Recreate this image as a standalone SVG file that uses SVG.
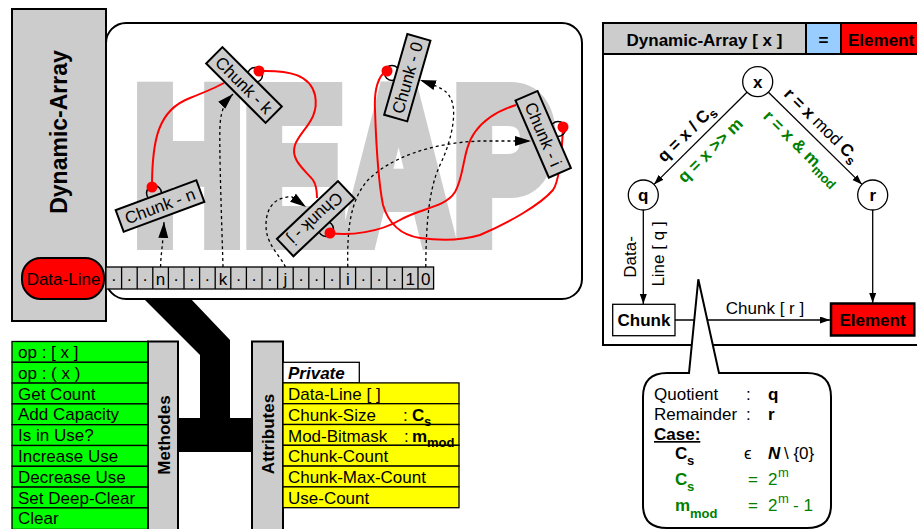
<svg xmlns="http://www.w3.org/2000/svg" width="917" height="529" viewBox="0 0 917 529">
<style>
text{font-family:"Liberation Sans",Arial,sans-serif;font-size:17px;fill:#000}
.b{font-weight:bold}
.g{fill:#008000}
.m{text-anchor:middle}
.box{stroke:#000;stroke-width:2}
.thin{stroke:#000;stroke-width:1.3}
.gray{fill:#cccccc}
.red{stroke:#ff0000;stroke-width:2;fill:none}
.dot{fill:#ff0000}
.loop{fill:none;stroke:#000;stroke-width:1.5}
.dash{fill:none;stroke:#000;stroke-width:1.3;stroke-dasharray:3 3}
.ln{fill:none;stroke:#000;stroke-width:1.3}
.chunk{fill:#cccccc;stroke:#000;stroke-width:2}
.sub{font-size:13px}
.heapword{fill:#cccccc;stroke:#cccccc;stroke-width:20;font-weight:bold;font-size:215px}
</style>
<defs>
<marker id="bigArrow" markerUnits="userSpaceOnUse" markerWidth="17" markerHeight="11" refX="16" refY="5" orient="auto">
<path d="M0,0 L16,5 L0,10 Z" fill="#000"/>
</marker>
<marker id="arrow" markerUnits="userSpaceOnUse" markerWidth="11" markerHeight="8" refX="10" refY="3.5" orient="auto">
<path d="M0,0 L10,3.5 L0,7 Z" fill="#000"/>
</marker>
</defs>

<!-- thick black band from heap to class members -->
<polygon points="143,298 190,298 230,340 230,418 252,418 252,452 178,452 178,418 200,418 200,355" fill="#000"/>

<g id="dynamic-array">
<rect x="12" y="9" width="94" height="312" class="gray box"/>
<text class="b m" style="font-size:23px" transform="translate(67,132) rotate(-90)">Dynamic-Array</text>
</g>

<g id="heap">
<rect x="106" y="23" width="476" height="276" rx="20" fill="#fff" class="box"/>
<text class="heapword" x="134" y="240" stroke-linejoin="miter" textLength="420" lengthAdjust="spacingAndGlyphs">HEAP</text>
</g>

<g id="data-line">
<rect x="22" y="258" width="82" height="41" rx="19" fill="#ff0000" class="box"/>
<text class="m" x="63.5" y="285">Data-Line</text>
</g>

<g id="array">
<rect x="106" y="267" width="327.6" height="22" class="gray thin"/>
<path class="ln" d="M121.6,267V289M137.2,267V289M152.8,267V289M168.4,267V289M184,267V289M199.6,267V289M215.2,267V289M230.8,267V289M246.4,267V289M262,267V289M277.6,267V289M293.2,267V289M308.8,267V289M324.4,267V289M340,267V289M355.6,267V289M371.2,267V289M386.8,267V289M402.4,267V289M418,267V289"/>
<text class="m" x="113.8" y="285">·</text><text class="m" x="129.4" y="285">·</text><text class="m" x="145" y="285">·</text>
<text class="m" x="160.6" y="285">n</text>
<text class="m" x="176.2" y="285">·</text><text class="m" x="191.8" y="285">·</text><text class="m" x="207.4" y="285">·</text>
<text class="m" x="223" y="285">k</text>
<text class="m" x="238.6" y="285">·</text><text class="m" x="254.2" y="285">·</text><text class="m" x="269.8" y="285">·</text>
<text class="m" x="285.4" y="285">j</text>
<text class="m" x="301" y="285">·</text><text class="m" x="316.6" y="285">·</text><text class="m" x="332.2" y="285">·</text>
<text class="m" x="347.8" y="285">i</text>
<text class="m" x="363.4" y="285">·</text><text class="m" x="379" y="285">·</text><text class="m" x="394.6" y="285">·</text>
<text class="m" x="410.2" y="285">1</text>
<text class="m" x="425.8" y="285">0</text>
</g>

<g id="definition-panel">
<rect x="603" y="23" width="330" height="322" fill="#fff" class="box"/>
<rect x="603" y="23" width="203" height="31" class="gray box"/>
<rect x="806" y="23" width="35" height="31" fill="#99ccff" class="box"/>
<rect x="841" y="23" width="92" height="31" fill="#ff0000" class="box"/>
<text class="b m" x="704.5" y="45.5">Dynamic-Array [ x ]</text>
<text class="b m" x="823.5" y="45.5">=</text>
<text class="b" x="848" y="45.5">Element</text>
</g>

<g id="connectors">
<!-- dashed index pointers -->
<path class="dash" marker-end="url(#bigArrow)" d="M160.6,267 C160.6,255 163,245 164,222"/>
<path class="dash" marker-end="url(#bigArrow)" d="M223,267 C222,230 219,150 220,125 C221,110 225,102 233,94"/>
<path class="dash" marker-end="url(#bigArrow)" d="M285.4,267 C280,255 266,245 266,225 C266,205 278,196 292,197 L306,207"/>
<path class="dash" marker-end="url(#bigArrow)" d="M347.8,267 C347,230 350,200 368,180 C390,158 430,143 480,141 L531,141"/>
<path class="dash" marker-end="url(#bigArrow)" d="M425.8,267 C426,230 428,190 440,165 C452,140 458,110 450,97 C446,90 440,87 420,80"/>
<!-- red chain links -->
<path class="red" d="M152,187 C152,140 158,110 190,98 C205,92 215,88 224,83"/>
<path class="red" d="M259,71 C290,70 310,75 315,95 C320,120 300,130 295,145 C290,160 305,170 313,180 C317,186 317,192 317,198"/>
<path class="red" d="M330,233 C350,236 380,232 400,220 C420,208 445,208 455,192 C465,175 462,150 475,132 C485,118 500,110 516,105"/>
<path class="red" d="M563,127 C562,150 560,180 553,190 C540,205 510,222 480,235 C460,241 435,240 420,238 C400,235 388,222 383,205 C378,180 376,140 375,110 C374,90 378,75 387,71"/>
<!-- right diagram -->
<path class="ln" marker-end="url(#arrow)" d="M747,92.3 L654,184.4"/>
<path class="ln" marker-end="url(#arrow)" d="M768.4,92.3 L862,184.4"/>
<path class="ln" marker-end="url(#arrow)" d="M643.3,210 L643.3,304"/>
<path class="ln" marker-end="url(#arrow)" d="M872.7,210 L872.7,303"/>
<path class="ln" marker-end="url(#arrow)" d="M675,320 L830,320"/>
</g>

<g id="chunk-n">
<circle cx="154" cy="193" r="7.5" class="loop"/>
<g transform="translate(160,206) rotate(-20.3)">
<rect x="-43" y="-11.5" width="86" height="23" class="chunk"/>
<text class="m" y="6">Chunk - n</text>
</g>
<circle cx="152" cy="187" r="5.5" class="dot"/>
</g>

<g id="chunk-k">
<circle cx="255" cy="75" r="7.5" class="loop"/>
<g transform="translate(244,85) rotate(45)">
<rect x="-42" y="-11.5" width="84" height="23" class="chunk"/>
<text class="m" y="6">Chunk - k</text>
</g>
<circle cx="259" cy="71" r="5.5" class="dot"/>
</g>

<g id="chunk-j">
<circle cx="326" cy="229" r="7.5" class="loop"/>
<g transform="translate(315.7,218.7) rotate(136.6)">
<rect x="-42" y="-12" width="84" height="24" class="chunk"/>
<text class="m" y="6">Chunk - j</text>
</g>
<circle cx="330" cy="233" r="5.5" class="dot"/>
</g>

<g id="chunk-0">
<circle cx="392" cy="73" r="7.5" class="loop"/>
<g transform="translate(407.3,77.7) rotate(-74)">
<rect x="-42" y="-12" width="84" height="24" class="chunk"/>
<text class="m" y="6">Chunk - 0</text>
</g>
<circle cx="387" cy="71" r="5.5" class="dot"/>
</g>

<g id="chunk-i">
<circle cx="558" cy="129" r="7.5" class="loop"/>
<g transform="translate(543.2,134.3) rotate(66.6)">
<rect x="-42" y="-12" width="84" height="24" class="chunk"/>
<text class="m" y="6">Chunk - i</text>
</g>
<circle cx="563" cy="127" r="5.5" class="dot"/>
</g>

<g id="methodes">
<rect x="12" y="341.5" width="136" height="20.8" fill="#00ff00" class="thin"/>
<rect x="12" y="362.3" width="136" height="20.8" fill="#00ff00" class="thin"/>
<rect x="12" y="383.1" width="136" height="20.8" fill="#00ff00" class="thin"/>
<rect x="12" y="403.9" width="136" height="20.8" fill="#00ff00" class="thin"/>
<rect x="12" y="424.7" width="136" height="20.8" fill="#00ff00" class="thin"/>
<rect x="12" y="445.5" width="136" height="20.8" fill="#00ff00" class="thin"/>
<rect x="12" y="466.3" width="136" height="20.8" fill="#00ff00" class="thin"/>
<rect x="12" y="487.1" width="136" height="20.8" fill="#00ff00" class="thin"/>
<rect x="12" y="507.9" width="136" height="21.5" fill="#00ff00" class="thin"/>
<text x="18" y="358">op : [ x ]</text>
<text x="18" y="378.8">op : ( x )</text>
<text x="18" y="399.6">Get Count</text>
<text x="18" y="420.4">Add Capacity</text>
<text x="18" y="441.2">Is in Use?</text>
<text x="18" y="462">Increase Use</text>
<text x="18" y="482.8">Decrease Use</text>
<text x="18" y="503.6">Set Deep-Clear</text>
<text x="18" y="524.4">Clear</text>
<rect x="148" y="341.5" width="30" height="190" class="gray box"/>
<text class="b m" transform="translate(170,435) rotate(-90)">Methodes</text>
</g>

<g id="attributes">
<rect x="252" y="341.5" width="31" height="190" class="gray box"/>
<text class="b m" transform="translate(273.5,434) rotate(-90)">Attributes</text>
<rect x="283" y="362.3" width="76.3" height="20.6" fill="#fff" class="thin"/>
<text x="288" y="378.5" class="b" font-style="italic">Private</text>
<rect x="283" y="382.9" width="176" height="20.8" fill="#ffff00" class="thin"/>
<rect x="283" y="403.7" width="176" height="20.8" fill="#ffff00" class="thin"/>
<rect x="283" y="424.5" width="176" height="20.8" fill="#ffff00" class="thin"/>
<rect x="283" y="445.3" width="176" height="20.8" fill="#ffff00" class="thin"/>
<rect x="283" y="466.1" width="176" height="20.8" fill="#ffff00" class="thin"/>
<rect x="283" y="486.9" width="176" height="20.8" fill="#ffff00" class="thin"/>
<text x="288" y="400">Data-Line [ ]</text>
<text x="288" y="420.8">Chunk-Size</text>
<text x="403" y="420.8">:</text>
<text x="412" y="420.8" class="b">C</text>
<text x="424" y="425.5" class="b sub">s</text>
<text x="288" y="441.6">Mod-Bitmask</text>
<text x="404" y="441.6">:</text>
<text x="412" y="441.6" class="b">m</text>
<text x="427" y="446.5" class="b sub">mod</text>
<text x="288" y="462.4">Chunk-Count</text>
<text x="288" y="483.2">Chunk-Max-Count</text>
<text x="288" y="504">Use-Count</text>
</g>

<g id="labels">
<text class="b m" transform="translate(686,133) rotate(-44.7)" y="6">q = x / C<tspan class="sub" dy="4">s</tspan></text>
<text class="b m g" transform="translate(710,150) rotate(-44.7)" y="6">q = x &gt;&gt; m</text>
<text class="b m" transform="translate(822,125) rotate(44.6)" y="6">r = x <tspan font-weight="normal">mod</tspan> C<tspan class="sub" dy="4">s</tspan></text>
<text class="b m g" transform="translate(802,148) rotate(44.6)" y="6">r = x &amp; m<tspan class="sub" dy="4">mod</tspan></text>
<text class="m" transform="translate(635.5,257) rotate(-90)">Data-</text>
<text class="m" transform="translate(663.5,254) rotate(-90)">Line [ q ]</text>
<text class="m" x="765" y="314">Chunk [ r ]</text>
</g>

<g id="node-x">
<circle cx="757.7" cy="81.7" r="15" fill="#fff" class="thin"/>
<text class="b m" x="757.7" y="87.5">x</text>
</g>
<g id="node-q">
<circle cx="643.3" cy="195" r="15" fill="#fff" class="thin"/>
<text class="b m" x="643.3" y="201">q</text>
</g>
<g id="node-r">
<circle cx="872.7" cy="195" r="15" fill="#fff" class="thin"/>
<text class="b m" x="872.7" y="201">r</text>
</g>
<g id="node-chunk">
<rect x="612.7" y="304.3" width="62.3" height="31.4" fill="#fff" class="thin"/>
<text class="b m" x="644" y="326">Chunk</text>
</g>
<g id="node-element">
<rect x="831" y="303.5" width="83.3" height="32" fill="#ff0000" stroke="#000" stroke-width="2.5"/>
<text class="b m" x="872.5" y="326">Element</text>
</g>

<g id="callout">
<path d="M667,373 L689,373 L698.3,279.3 L719,373 L807,373 Q831,373 831,397 L831,505 Q831,528 807,528 L667,528 Q643,528 643,505 L643,397 Q643,373 667,373 Z" fill="#fff" class="box"/>
<text x="654" y="400">Quotient</text><text x="746" y="400">:</text><text x="768" y="400" class="b">q</text>
<text x="654" y="420">Remainder</text><text x="746" y="420">:</text><text x="768" y="420" class="b">r</text>
<text x="654" y="440" class="b" text-decoration="underline">Case:</text>
<text x="675" y="459" class="b">C</text><text x="687" y="465" class="b sub">s</text>
<text x="744" y="459">ϵ</text>
<text x="768" y="459" class="b" font-style="italic">N</text><text x="784" y="459">\ {0}</text>
<text x="675" y="485" class="b g">C</text><text x="687" y="491" class="b sub g">s</text>
<text x="748" y="485" class="g">=</text><text x="768" y="485" class="g">2</text><text x="778" y="477" class="sub g">m</text>
<text x="675" y="511" class="b g">m</text><text x="690" y="517.5" class="b sub g">mod</text>
<text x="748" y="511" class="g">=</text><text x="768" y="511" class="g">2</text><text x="778" y="503" class="sub g">m</text><text x="793" y="511" class="g">- 1</text>
</g>
</svg>
